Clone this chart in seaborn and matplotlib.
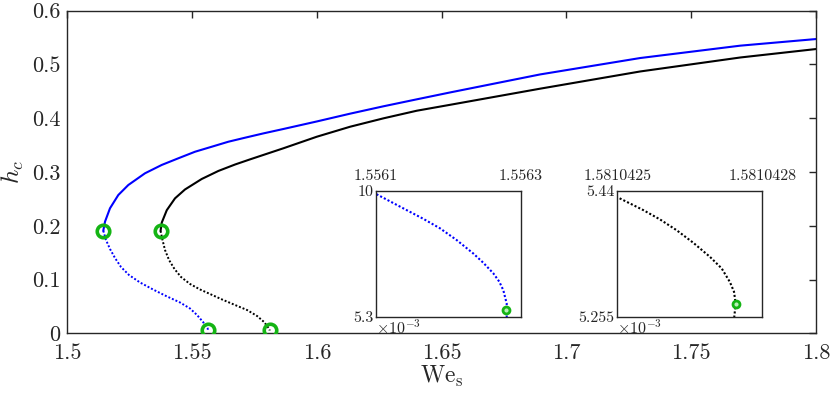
import numpy as np
import pandas as pd
import matplotlib
matplotlib.use("Agg")
import matplotlib.pyplot as plt
import seaborn as sns
from matplotlib.ticker import FuncFormatter

# ---------------- data ----------------
blue_upper_x = [1.51435, 1.51504, 1.51704, 1.52037, 1.52438, 1.53107, 1.53777, 1.54443,
                1.55112, 1.55782, 1.56447, 1.57117, 1.57851, 1.58653, 1.59992, 1.61327,
                1.62662, 1.64002, 1.65337, 1.68945, 1.72955, 1.76965, 1.8]
blue_upper_y = [0.1908, 0.2076, 0.2325, 0.2572, 0.2758, 0.2976, 0.3131, 0.3255,
                0.3377, 0.3470, 0.3563, 0.3638, 0.3718, 0.3800, 0.3940, 0.4085,
                0.4222, 0.4352, 0.4480, 0.4815, 0.5120, 0.5350, 0.5473]

black_upper_x = [1.5373, 1.5378, 1.5398, 1.5431, 1.5471, 1.5538, 1.5605, 1.5672,
                 1.57318, 1.58653, 1.59992, 1.61327, 1.62662, 1.64002, 1.65337,
                 1.68945, 1.72955, 1.76965, 1.8]
black_upper_y = [0.1905, 0.2060, 0.2290, 0.2510, 0.2675, 0.2870, 0.3020, 0.3140,
                 0.3235, 0.3441, 0.3656, 0.3842, 0.3998, 0.4140, 0.4250,
                 0.4550, 0.4870, 0.5130, 0.5287]

blue_lower_x = [1.51435, 1.51544, 1.51704, 1.51905, 1.52145, 1.52466, 1.52907,
                1.53428, 1.53949, 1.54511, 1.54912, 1.55192, 1.55433,
                1.556101, 1.5561423, 1.5561652, 1.5561883, 1.5562113, 1.5562342,
                1.5562480, 1.5562618, 1.5562701, 1.5562756, 1.5562803, 1.5562803]
blue_lower_y = [0.1908, 0.1735, 0.1568, 0.1400, 0.1233, 0.1084, 0.0945,
                0.0815, 0.0694, 0.0573, 0.0461, 0.0340, 0.0210,
                0.00987, 0.00928, 0.008956, 0.00860, 0.008161, 0.00766,
                0.007314, 0.00692, 0.006606, 0.00629, 0.00579, 0.00525]

black_lower_x = [1.5373, 1.53809, 1.53909, 1.54070, 1.54290, 1.54551, 1.54912,
                 1.55313, 1.55754, 1.56195, 1.56716, 1.57197, 1.57598, 1.57879,
                 1.58059,
                 1.5810425021, 1.5810425538, 1.58104258835, 1.581042623,
                 1.5810426572, 1.5810426917, 1.581042716, 1.581042733,
                 1.5810427415, 1.581042745, 1.581042742]
black_lower_y = [0.1905, 0.1735, 0.1549, 0.1363, 0.1195, 0.1047, 0.0917,
                 0.0815, 0.0722, 0.0629, 0.0526, 0.0433, 0.0322, 0.0210,
                 0.0098,
                 0.005430, 0.0054117, 0.005398, 0.005382,
                 0.0053637, 0.005343, 0.005326, 0.005306,
                 0.0052917, 0.005274, 0.0052545]

marker_x = [1.51435, 1.5373, 1.55628, 1.581042745]
marker_y = [0.1908, 0.1905, 0.00555, 0.005274]

main_xticks = [1.5, 1.55, 1.6, 1.65, 1.7, 1.75, 1.8]
main_yticks = [0, 0.1, 0.2, 0.3, 0.4, 0.5, 0.6]

inset1_xlim = [1.5561, 1.5563]
inset1_ylim = [5.3e-3, 10e-3]
inset1_xlabels = ["1.5561", "1.5563"]
inset1_ylabels = ["5.3", "10"]
inset2_xlim = [1.5810425, 1.5810428]
inset2_ylim = [5.255e-3, 5.44e-3]
inset2_xlabels = ["1.5810425", "1.5810428"]
inset2_ylabels = ["5.255", "5.44"]

# ---------------- style ----------------
sns.set_theme(style="white")
plt.rcParams["font.family"] = ["cmr10", "DejaVu Serif"]
plt.rcParams["mathtext.fontset"] = "cm"
plt.rcParams["axes.formatter.use_mathtext"] = True
plt.rcParams["axes.unicode_minus"] = False

BLUE = "#0000ff"
GREEN = "#14b414"
SPINE = "#262626"

df_bu = pd.DataFrame({"x": blue_upper_x, "y": blue_upper_y})
df_ku = pd.DataFrame({"x": black_upper_x, "y": black_upper_y})
df_bl = pd.DataFrame({"x": blue_lower_x, "y": blue_lower_y})
df_kl = pd.DataFrame({"x": black_lower_x, "y": black_lower_y})
df_m = pd.DataFrame({"x": marker_x, "y": marker_y})

fig = plt.figure(figsize=(8.3, 3.97), dpi=100)
ax = fig.add_axes([0.0813, 0.1605, 0.9018, 0.8125])


def draw_curves(a, lw_solid, lw_dot):
    sns.lineplot(data=df_bu, x="x", y="y", ax=a, sort=False, estimator=None,
                 color=BLUE, lw=lw_solid)
    sns.lineplot(data=df_ku, x="x", y="y", ax=a, sort=False, estimator=None,
                 color="black", lw=lw_solid)
    sns.lineplot(data=df_bl, x="x", y="y", ax=a, sort=False, estimator=None,
                 color=BLUE, lw=lw_dot, linestyle=(0, (1, 1)))
    sns.lineplot(data=df_kl, x="x", y="y", ax=a, sort=False, estimator=None,
                 color="black", lw=lw_dot, linestyle=(0, (1, 1)))


draw_curves(ax, 1.5, 1.4)
ax.plot(df_m["x"], df_m["y"], ls="none", marker="o", ms=9, mfc="none",
        mec=GREEN, mew=2.6, zorder=5)

ax.set_xlim(1.5, 1.8)
ax.set_ylim(0, 0.6)
ax.set_xticks(main_xticks)
ax.set_yticks(main_yticks)
ax.xaxis.set_major_formatter(FuncFormatter(lambda v, p: f"{v:g}"))
ax.yaxis.set_major_formatter(FuncFormatter(lambda v, p: f"{v:g}"))
ax.tick_params(direction="in", length=5, width=1, colors=SPINE, labelsize=16,
               top=True, right=True, labelcolor=SPINE, pad=5)
ax.tick_params(axis="x", pad=7)
for s in ax.spines.values():
    s.set_color(SPINE)
    s.set_linewidth(1.0)
ax.set_xlabel(r"$\mathrm{We}_\mathrm{s}$", fontsize=17, color=SPINE, labelpad=1)
ax.set_ylabel(r"$h_c$", fontsize=18, color=SPINE, labelpad=4)


def make_inset(rect, xlim, ylim, xlabels, ylabels):
    a = fig.add_axes(rect)
    draw_curves(a, 1.5, 1.5)
    a.plot(df_m["x"], df_m["y"], ls="none", marker="o", ms=5, mfc="#b8f0b8",
           mec=GREEN, mew=2.0, zorder=5)
    a.set_xlim(*xlim)
    a.set_ylim(*ylim)
    a.set_xticks(xlim)
    a.set_xticklabels(xlabels)
    a.set_yticks(ylim)
    a.set_yticklabels(ylabels)
    a.xaxis.tick_top()
    a.tick_params(axis="x", length=0, labelsize=11.5, colors=SPINE, pad=6)
    a.tick_params(axis="y", length=0, labelsize=11.5, colors=SPINE, pad=2)
    a.set_xlabel("")
    a.set_ylabel("")
    for s in a.spines.values():
        s.set_color(SPINE)
        s.set_linewidth(1.0)
    a.text(0.0, -0.015, r"$\times10^{-3}$", transform=a.transAxes, ha="left",
           va="top", fontsize=11.5, color=SPINE)
    return a


make_inset([0.453, 0.2023, 0.1747, 0.317], inset1_xlim, inset1_ylim,
           inset1_xlabels, inset1_ylabels)
make_inset([0.7437, 0.2023, 0.1747, 0.317], inset2_xlim, inset2_ylim,
           inset2_xlabels, inset2_ylabels)

fig.savefig("out.png", dpi=100)
